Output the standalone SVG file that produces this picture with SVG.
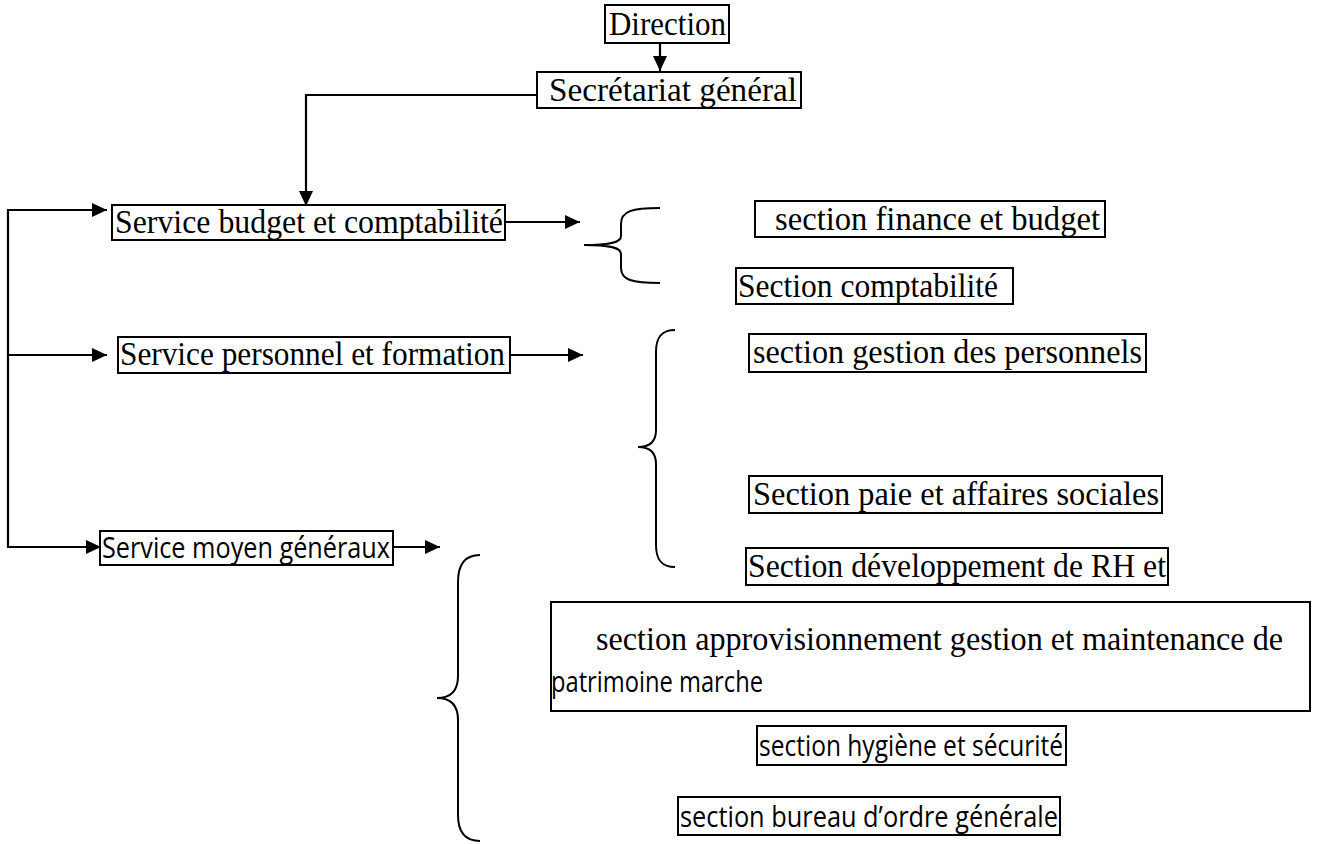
<svg xmlns="http://www.w3.org/2000/svg" width="1322" height="844" viewBox="0 0 1322 844">
  <style>
    .box { fill: #fff; stroke: #000; stroke-width: 2; }
    .serif { font-family: "Liberation Serif", Tinos, "Times New Roman", "DejaVu Serif", serif; font-size: 34px; fill: #000; }
    .sans { font-family: "Open Sans", Lato, "Liberation Sans", sans-serif; font-size: 29px; fill: #000; }
    .link { fill: none; stroke: #000; stroke-width: 2.2; }
    .brace { fill: none; stroke: #000; stroke-width: 2; }
  </style>
  <defs>
    <marker id="arrow" viewBox="0 0 15 14" refX="15" refY="7" markerWidth="15" markerHeight="14" markerUnits="userSpaceOnUse" orient="auto">
      <path d="M0,0 L15,7 L0,14 Z" fill="#000"/>
    </marker>
  </defs>

  <rect width="1322" height="844" fill="#fff"/>

  <!-- connectors -->
  <g id="connectors">
    <line class="link" x1="660" y1="43" x2="660" y2="71" marker-end="url(#arrow)"/>
    <polyline class="link" points="537,95 306,95 306,206" marker-end="url(#arrow)"/>
    <line class="link" x1="8" y1="209" x2="8" y2="548"/>
    <line class="link" x1="7" y1="210" x2="107" y2="210" marker-end="url(#arrow)"/>
    <line class="link" x1="8" y1="355" x2="107" y2="355" marker-end="url(#arrow)"/>
    <line class="link" x1="7" y1="547" x2="101" y2="547" marker-end="url(#arrow)"/>
    <line class="link" x1="505" y1="222" x2="580" y2="222" marker-end="url(#arrow)"/>
    <line class="link" x1="510" y1="355" x2="583" y2="355" marker-end="url(#arrow)"/>
    <line class="link" x1="393" y1="547" x2="440" y2="547" marker-end="url(#arrow)"/>
    <!-- grouping braces -->
    <path class="brace" d="M660,208 C632,208 621,211 621,224 L621,236 C621,242 612,245 584,245 C612,245 621,248 621,254 L621,268 C621,280 632,283 660,283"/>
    <path class="brace" d="M675,330 C661,330 656,338 656,352 L656,430 C656,441 650,447 638,447 C650,447 656,453 656,464 L656,545 C656,559 661,567 675,567"/>
    <path class="brace" d="M480,555 C464,555 458,566 458,582 L458,676 C458,690 451,698 437,698 C451,698 458,706 458,720 L458,815 C458,831 464,841 480,841"/>
  </g>

  <g id="direction">
    <rect class="box" x="605" y="5" width="124" height="38"/>
    <text class="serif" x="609" y="35" textLength="117" lengthAdjust="spacingAndGlyphs">Direction</text>
  </g>

  <g id="secretariat">
    <rect class="box" x="537" y="72" width="264" height="36"/>
    <text class="serif" x="549" y="101" textLength="248" lengthAdjust="spacingAndGlyphs">Secrétariat général</text>
  </g>

  <g id="service-budget">
    <rect class="box" x="112" y="205" width="393" height="35"/>
    <text class="serif" x="115" y="233" textLength="388" lengthAdjust="spacingAndGlyphs">Service budget et comptabilité</text>
  </g>

  <g id="section-finance">
    <rect class="box" x="755" y="201" width="350" height="36"/>
    <text class="serif" x="775" y="230" textLength="325" lengthAdjust="spacingAndGlyphs">section finance et budget</text>
  </g>

  <g id="section-comptabilite">
    <rect class="box" x="736" y="268" width="277" height="36"/>
    <text class="serif" x="738" y="297" textLength="260" lengthAdjust="spacingAndGlyphs">Section comptabilité</text>
  </g>

  <g id="service-personnel">
    <rect class="box" x="118" y="337" width="392" height="36"/>
    <text class="serif" x="120" y="365" textLength="385" lengthAdjust="spacingAndGlyphs">Service personnel et formation</text>
  </g>

  <g id="section-gestion">
    <rect class="box" x="749" y="334" width="397" height="38"/>
    <text class="serif" x="753" y="363" textLength="389" lengthAdjust="spacingAndGlyphs">section gestion des personnels</text>
  </g>

  <g id="section-paie">
    <rect class="box" x="749" y="476" width="413" height="37"/>
    <text class="serif" x="753" y="505" textLength="406" lengthAdjust="spacingAndGlyphs">Section paie et affaires sociales</text>
  </g>

  <g id="section-developpement">
    <rect class="box" x="746" y="548" width="422" height="37"/>
    <text class="serif" x="748" y="577" textLength="418" lengthAdjust="spacingAndGlyphs">Section développement de RH et</text>
  </g>

  <g id="service-moyens">
    <rect class="box" x="100" y="531" width="293" height="34"/>
    <text class="sans" x="102" y="558" textLength="288" lengthAdjust="spacingAndGlyphs">Service moyen généraux</text>
  </g>

  <g id="section-approvisionnement">
    <rect class="box" x="551" y="602" width="759" height="109"/>
    <text class="serif" x="596" y="650" textLength="687" lengthAdjust="spacingAndGlyphs">section approvisionnement gestion et maintenance de</text>
    <text class="sans" x="551" y="692" textLength="212" lengthAdjust="spacingAndGlyphs">patrimoine marche</text>
  </g>

  <g id="section-hygiene">
    <rect class="box" x="757" y="726" width="309" height="39"/>
    <text class="sans" x="759" y="756" textLength="304" lengthAdjust="spacingAndGlyphs">section hygiène et sécurité</text>
  </g>

  <g id="section-bureau">
    <rect class="box" x="678" y="797" width="382" height="38"/>
    <text class="sans" x="680" y="827" textLength="378" lengthAdjust="spacingAndGlyphs">section bureau d’ordre générale</text>
  </g>
</svg>
